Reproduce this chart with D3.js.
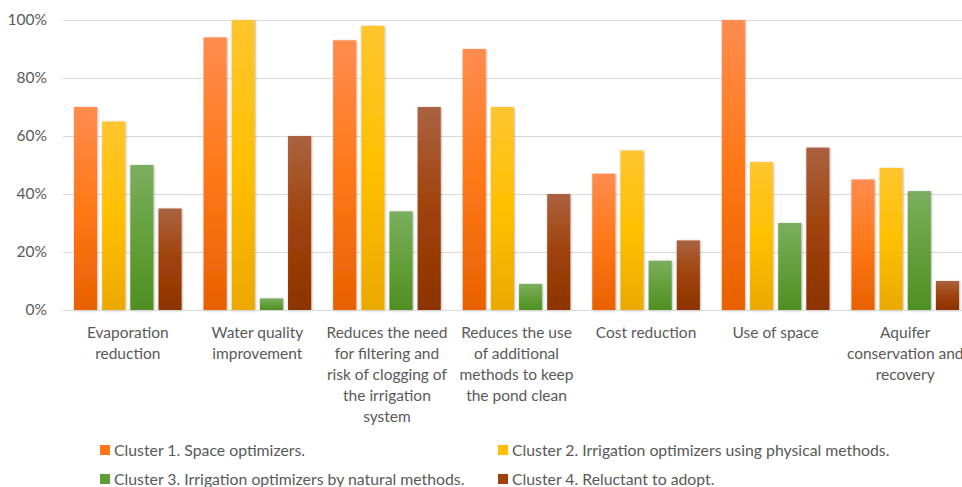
<!DOCTYPE html>
<html>
<head>
<meta charset="utf-8">
<script src="https://cdn.jsdelivr.net/npm/d3@7/dist/d3.min.js"></script>
<style>
  html, body { margin: 0; padding: 0; background: #fff; overflow: hidden; }
  svg { display: block; font-family: Lato, "Open Sans", sans-serif; }
</style>
</head>
<body>
<svg id="chart" width="962" height="487"></svg>
<script>
const categories = [
  "Evaporation reduction",
  "Water quality improvement",
  "Reduces the need for filtering and risk of clogging of the irrigation system",
  "Reduces the use of additional methods to keep the pond clean",
  "Cost reduction",
  "Use of space",
  "Aquifer conservation and recovery"
];
const categoryLines = [
  ["Evaporation", "reduction"],
  ["Water quality", "improvement"],
  ["Reduces the need", "for filtering and", "risk of clogging of", "the irrigation", "system"],
  ["Reduces the use", "of additional", "methods to keep", "the pond clean"],
  ["Cost reduction"],
  ["Use of space"],
  ["Aquifer", "conservation and", "recovery"]
];
const seriesNames = [
  "Cluster 1. Space optimizers.",
  "Cluster 2. Irrigation optimizers using physical methods.",
  "Cluster 3. Irrigation optimizers by natural methods.",
  "Cluster 4. Reluctant to adopt."
];
const cluster1 = [70, 94, 93, 90, 47, 100, 45];
const cluster2 = [65, 100, 98, 70, 55, 51, 49];
const cluster3 = [50, 4, 34, 9, 17, 30, 41];
const cluster4 = [35, 60, 70, 40, 24, 56, 10];
const yTicks = [0, 20, 40, 60, 80, 100];

const seriesValues = [cluster1, cluster2, cluster3, cluster4];
const gradients = [
  ["#FF8C4E", "#FF7817", "#E86100"],
  ["#FFC52F", "#FFC000", "#EBA900"],
  ["#7BAE5F", "#64A03B", "#4F8F22"],
  ["#AB6240", "#A0420A", "#8C3300"]
];
const legendColors = ["#FF7517", "#FFC000", "#5E9E37", "#A0420A"];

const svg = d3.select("#chart");
const defs = svg.append("defs");
gradients.forEach((g, i) => {
  const lg = defs.append("linearGradient").attr("id", "grad" + i)
    .attr("x1", 0).attr("y1", 0).attr("x2", 0).attr("y2", 1);
  lg.append("stop").attr("offset", "0%").attr("stop-color", g[0]);
  lg.append("stop").attr("offset", "50%").attr("stop-color", g[1]);
  lg.append("stop").attr("offset", "100%").attr("stop-color", g[2]);
});
const f = defs.append("filter").attr("id", "shadow").attr("x", "-20%").attr("y", "-5%").attr("width", "140%").attr("height", "110%");
f.append("feDropShadow").attr("dx", 0.6).attr("dy", 0.6).attr("stdDeviation", 0.8)
  .attr("flood-color", "#000").attr("flood-opacity", 0.35);

const mLeft = 63, mRight = 970, mTop = 20, mBottom = 310;
const x0 = d3.scaleBand().domain(categories).range([mLeft, mRight]).paddingInner(0).paddingOuter(0);
const x1 = d3.scaleBand().domain(d3.range(4)).range([11, x0.bandwidth() - 11]).paddingInner(0.18).paddingOuter(0);
const y = d3.scaleLinear().domain([0, 100]).range([mBottom, mTop]);

// gridlines
const grid = svg.append("g")
  .attr("transform", `translate(${mLeft},0)`)
  .call(d3.axisLeft(y).tickValues(yTicks).tickSize(-(mRight - mLeft)).tickFormat(""));
grid.select(".domain").remove();
grid.selectAll("line").attr("stroke", "#d9d9d9").attr("stroke-width", 1);

// y tick labels
const yAxis = svg.append("g")
  .attr("transform", `translate(47,0)`)
  .call(d3.axisLeft(y).tickValues(yTicks).tickSize(0).tickPadding(0).tickFormat(d => d + "%"));
yAxis.select(".domain").remove();
yAxis.selectAll("text").attr("fill", "#595959").style("font-size", "15.5px").style("font-family", "Lato, 'Open Sans', sans-serif");

// bars
const groups = svg.append("g").selectAll("g").data(categories).join("g")
  .attr("transform", d => `translate(${x0(d)},0)`);
groups.selectAll("rect")
  .data((d, ci) => seriesValues.map((vals, si) => ({ si, v: vals[ci] })))
  .join("rect")
  .attr("x", d => x1(d.si))
  .attr("width", x1.bandwidth())
  .attr("y", d => y(d.v))
  .attr("height", d => y(0) - y(d.v))
  .attr("fill", d => `url(#grad${d.si})`)
  .attr("filter", "url(#shadow)");

// baseline
svg.append("line").attr("x1", mLeft).attr("x2", 962).attr("y1", y(0) + 0.5).attr("y2", y(0) + 0.5)
  .attr("stroke", "#d9d9d9");

// category labels
const cl = svg.append("g").selectAll("text").data(categories).join("text")
  .attr("x", d => x0(d) + x0.bandwidth() / 2)
  .attr("y", 338)
  .attr("text-anchor", "middle")
  .attr("fill", "#595959")
  .style("font-size", "15.5px");
cl.each(function(d, i) {
  const t = d3.select(this);
  categoryLines[i].forEach((line, li) => {
    t.append("tspan").attr("x", x0(d) + x0.bandwidth() / 2).attr("dy", li === 0 ? 0 : 21).text(line);
  });
});

// legend
const legendPos = [[100, 445], [498, 445], [100, 474], [498, 474]];
const lg = svg.append("g").selectAll("g").data(seriesNames).join("g")
  .attr("transform", (d, i) => `translate(${legendPos[i][0]},${legendPos[i][1]})`);
lg.append("rect").attr("width", 10).attr("height", 10).attr("fill", (d, i) => legendColors[i]);
lg.append("text").attr("x", 14).attr("y", 10.5).attr("fill", "#595959").style("font-size", "15.8px").text(d => d);
</script>
</body>
</html>
